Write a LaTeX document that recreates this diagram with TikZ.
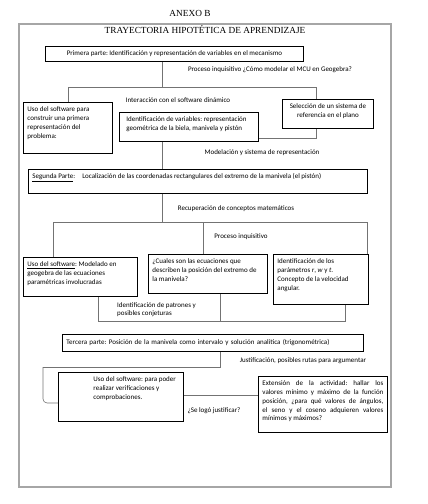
\documentclass[tikz,border=0pt]{standalone}
\usepackage{fontspec}
\setmainfont{Carlito}
\newfontfamily\titlefont{Liberation Serif}
\usetikzlibrary{positioning}
\frenchspacing
\newcommand{\btext}[3]{\parbox[c][#2][t]{#1}{\raggedright #3}}

\begin{document}
\begin{tikzpicture}[x=1pt, y=-1pt,
    box/.style={rectangle, draw, line width=0.9pt, fill=white, anchor=north west, inner sep=4pt, font=\fontsize{7}{8.9}\selectfont},
    tag/.style={inner sep=1pt, font=\fontsize{7}{8.9}\selectfont},
    heading/.style={inner sep=1pt, font=\titlefont\fontsize{9.3}{11}\selectfont},
    conn/.style={draw, black!55, line width=0.6pt},
    frame/.style={draw, black!35, line width=1.1pt}]

    \useasboundingbox (0,0) rectangle (428,504);
    \draw[frame] (19,24) rectangle (391,487);

    \node[heading] (anexo) at (190,13) {ANEXO B};
    \node[heading] (titulo) at (205,30) {TRAYECTORIA HIPOTÉTICA DE APRENDIZAJE};

    \node[box, minimum width=258pt, minimum height=15pt, align=center] (prim) at (45,46) {Primera parte: Identificación y representación de variables en el mecanismo};
    \node[box] (uso1) at (23,102) {\btext{81pt}{43pt}{Uso del software para\\construir una primera\\representación del\\problema:}};
    \node[box] (ident) at (119,112) {\btext{131pt}{21pt}{\leftskip=3pt Identificación de variables: representación\\geométrica de la biela, manivela y pistón}};
    \node[box] (selec) at (282,99) {\parbox[c][21pt][t]{83pt}{\centering Selección de un sistema de\\referencia en el plano}};
    \node[box] (seg) at (28,169) {\btext{331pt}{16pt}{\underline{Segunda Parte}:\quad Localización de las coordenadas rectangulares del extremo de la manivela (el pistón)}};
    \node[box] (usoB) at (23,257) {\btext{106pt}{31pt}{\underline{Uso del software}: Modelado en\\geogebra de las ecuaciones\\paramétricas involucradas}};
    \node[box] (cual) at (148,254) {\btext{111pt}{31pt}{¿Cuales son las ecuaciones que\\describen la posición del extremo de\\la manivela?}};
    \node[box] (param) at (273,254) {\btext{87pt}{42pt}{Identificación de los\\parámetros \textit{r}, \textit{w} y \textit{t}.\\Concepto de la velocidad\\angular.}};
    \node[tag, anchor=north west, align=left] (patron) at (116,301) {Identificación de patrones y\\posibles conjeturas};
    \node[box, minimum height=17pt, text width=293pt, align=left] (terc) at (62,334) {Tercera parte: Posición de la manivela como intervalo y solución analítica (trigonométrica)};
    \node[box] (usoC) at (58,372) {\btext{117pt}{41pt}{\leftskip=31pt Uso del software: para poder\\realizar verificaciones y\\comprobaciones.}};
    \node[box] (ext) at (258,376) {\parbox[c][48pt][t]{121pt}{Extensión de la actividad: hallar los\linebreak valores mínimo y máximo de la función\linebreak posición, ¿para qué valores de ángulos,\linebreak el seno y el coseno adquieren valores\linebreak mínimos y máximos?}};

    \node[tag] (preg) at (270,70) {Proceso inquisitivo ¿Cómo modelar el MCU en Geogebra?};
    \node[tag] (inter) at (178,100) {Interacción con el software dinámico};
    \node[tag] (model) at (262,153) {Modelación y sistema de representación};
    \node[tag] (recup) at (236,209) {Recuperación de conceptos matemáticos};
    \node[tag] (proc) at (241,237) {Proceso inquisitivo};
    \node[tag] (justif) at (303,361) {Justificación, posibles rutas para argumentar};
    \node[tag] (logro) at (214,411) {¿Se logó justificar?};

    \coordinate (a1) at (162,87);
    \coordinate (a2) at (68,87);
    \coordinate (a3) at (316,87);
    \coordinate (a4) at ([yshift=4pt]ident.south east);
    \path[conn] (prim.south -| a1) -- (a1);
    \path[conn] (uso1.north -| a2) -- (a2) -- (a3) -- (selec.north -| a3);
    \path[conn] (selec.south -| a3) -- (a4 -| a3) -- (a4);
    \path[conn] (ident.south -| a1) -- (seg.north -| a1);

    \coordinate (b1) at (162,222);
    \coordinate (b2) at (53,222);
    \coordinate (b3) at (367,222);
    \coordinate (b4) at (203,222);
    \path[conn] (seg.south -| b1) -- (b1);
    \path[conn] (usoB.north -| b2) -- (b2) -- (b3) -- (param.north -| b3);
    \path[conn] (b4) -- (cual.north -| b4);

    \coordinate (c1) at (98,321);
    \coordinate (c2) at (345,321);
    \coordinate (c3) at (220,321);
    \path[conn] (usoB.south -| c1) -- (c1) -- (c2) -- (param.south -| c2);
    \path[conn] (cual.south -| c3) -- (c3);

    \coordinate (d1) at (220,367);
    \coordinate (d2) at (43,367);
    \coordinate (d3) at ([yshift=-6pt]usoC.west);
    \path[conn] (terc.south -| d1) -- (d1) -- (d2);
    \path[conn, rounded corners=4pt] (d2) -- (d2 |- d3) -- (d3);

    \coordinate (e1) at ([yshift=2pt]usoC.east);
    \path[conn] (e1) -- (e1 -| ext.west);

\end{tikzpicture}
\end{document}
